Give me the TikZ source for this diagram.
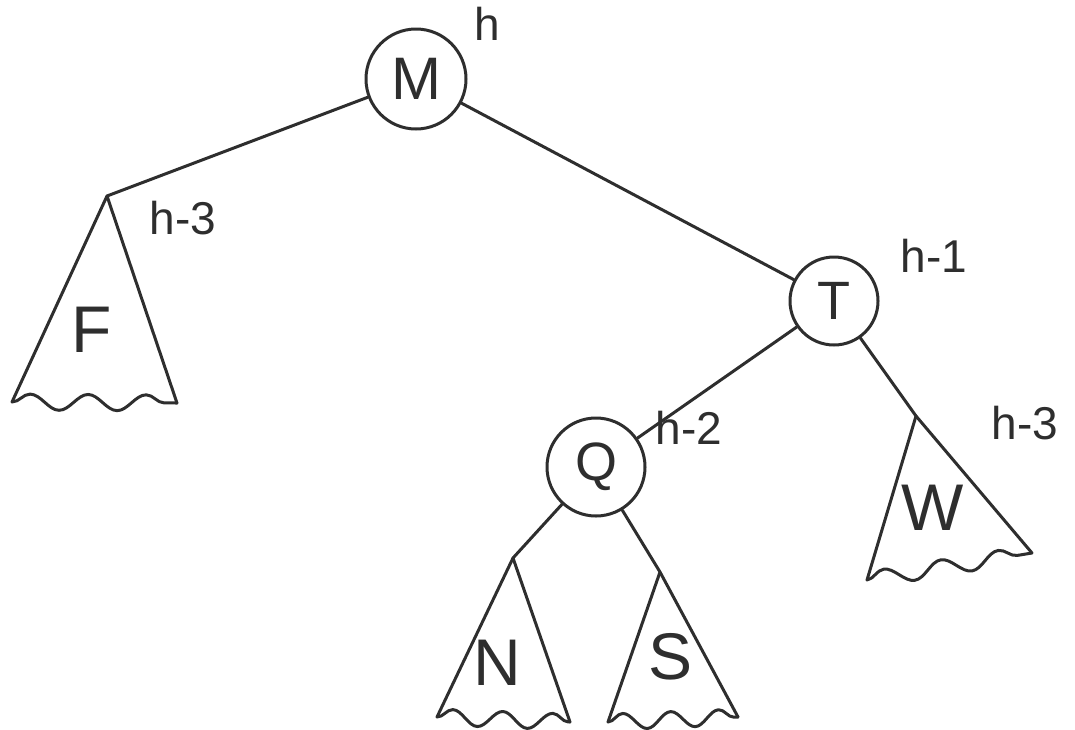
\documentclass[tikz,border=0pt]{standalone}
\usepackage{fontspec}
\setmainfont{Liberation Sans}
\usetikzlibrary{decorations.pathmorphing}
\definecolor{ink}{HTML}{2E2E2E}
\tikzset{
  x=1pt, y=-1pt,
  ink line/.style={draw=ink, line width=3pt, line cap=round, line join=round},
  treenode/.style={circle, ink line, inner sep=0pt},
  bigletter/.style={text=ink, font=\fontsize{66}{66}\selectfont},
  nodeletter/.style={text=ink, font=\fontsize{60}{60}\selectfont},
  hlabel/.style={text=ink, font=\fontsize{46}{46}\selectfont},
  wavy/.style={ink line, decorate, decoration={snake, segment length=58pt, amplitude=8pt}}
}
\begin{document}
\begin{tikzpicture}
\useasboundingbox (0,0) rectangle (1075,729);
% circle nodes
\node[treenode, minimum size=100pt, nodeletter] (M) at (416,79) {M};
\node[treenode, minimum size=88pt, nodeletter, font=\fontsize{54}{54}\selectfont] (T) at (834,301) {T};
\node[treenode, minimum size=98pt, nodeletter, font=\fontsize{54}{54}\selectfont] (Q) at (596,467) {Q};
% height labels
\node[hlabel] (hM) at (487,24) {h};
\node[hlabel] (hT) at (934,256) {h-1};
\node[hlabel] (hQ) at (689,428) {h-2};
\node[hlabel] (hF) at (183,218) {h-3};
\node[hlabel] (hW) at (1025,423) {h-3};
% triangle corners
\coordinate (Fa) at (107,196);
\coordinate (Fl) at (12,402);
\coordinate (Fr) at (177,403);
\coordinate (Wa) at (916,416);
\coordinate (Wl) at (867,580);
\coordinate (Wr) at (1032,553);
\coordinate (Na) at (513,558);
\coordinate (Nl) at (437,717);
\coordinate (Nr) at (570,722);
\coordinate (Sa) at (660,572);
\coordinate (Sl) at (608,722);
\coordinate (Sr) at (738,717);
% connectors
\draw[ink line] (M) -- (Fa);
\draw[ink line] (M) -- (T);
\draw[ink line] (T) -- (Q);
\draw[ink line] (T) -- (Wa) -- (Wr);
\draw[ink line] (Q) -- (Na) -- (Nl);
\draw[ink line] (Q) -- (Sa) -- (Sr);
% triangle inner sides
\draw[ink line] (Fl) -- (Fa) -- (Fr);
\draw[ink line] (Wa) -- (Wl);
\draw[ink line] (Na) -- (Nr);
\draw[ink line] (Sa) -- (Sl);
% wavy bases
\draw[wavy] (Fl) -- (Fr);
\draw[wavy] (Wl) -- (Wr);
\draw[wavy, decoration={segment length=50pt}] (Nl) -- (Nr);
\draw[wavy, decoration={segment length=48pt}] (Sl) -- (Sr);
% subtree letters
\node[bigletter] (F) at (92,330) {F};
\node[bigletter] (W) at (933,508) {W};
\node[bigletter] (N) at (497,663) {N};
\node[bigletter] (S) at (670,657) {S};
\end{tikzpicture}
\end{document}
